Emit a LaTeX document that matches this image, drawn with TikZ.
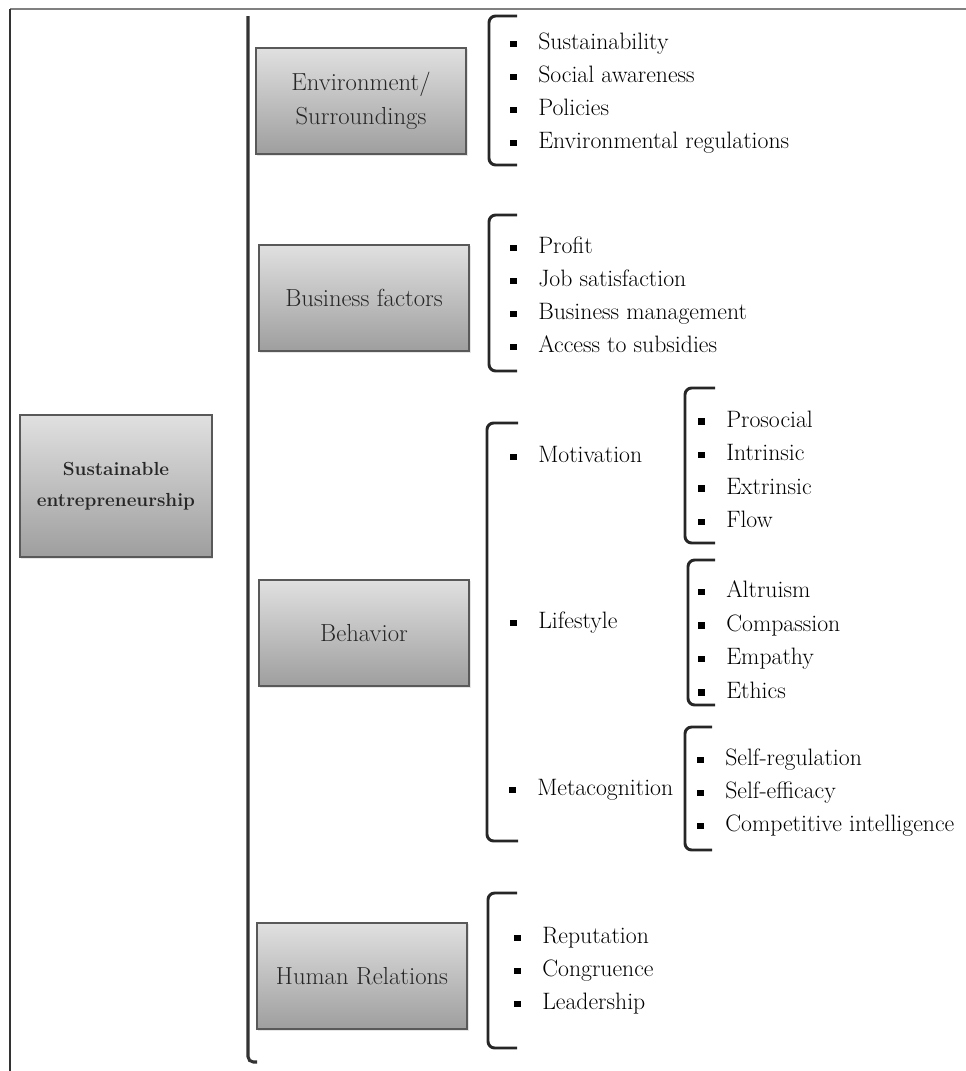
\documentclass[tikz,border=0pt]{standalone}
\usetikzlibrary{positioning}
\usetikzlibrary{shadows}
\tikzset{
	factor/.style={
		rectangle,
		draw=black!65, line width=1.5pt,
		top color=black!12,
		bottom color=black!38,
		text=black!85,
		minimum width=158pt,
		minimum height=80pt,
		align=center,
		font=\fontsize{18.5}{25.5}\selectfont,
		drop shadow={opacity=0.2, shadow xshift=1pt, shadow yshift=-1pt}},
	brak/.style={draw=black!85, line width=2.2pt, rounded corners=5pt},
	bulsq/.style={fill=black, inner sep=0pt, minimum size=5pt},
	itemtxt/.style={
		anchor=west, inner sep=0pt,
		text=black,
		font=\fontsize{17.8}{20}\selectfont,
		text height=12pt, text depth=3.5pt,
		label={[bulsq, label distance=15.5pt]left:{}}},
}
\begin{document}
\begin{tikzpicture}[x=0.75pt, y=-0.75pt]
	\useasboundingbox (0,0) rectangle (966,1071);
	% frame
	\draw[black!50, line width=1.2pt] (966,9) -- (10,9);
	\draw[black!80, line width=0.9pt] (10,9) -- (10,1071);

	% root and the four factors
	\node[factor, font=\bfseries\fontsize{14.2}{23}\selectfont, minimum width=144pt, minimum height=107pt] (root) at (116,486) {Sustainable\\entrepreneurship};
	\draw[black!80, line width=2.3pt, rounded corners=4pt] (248,16) -- (248,1062) -- (257,1062);

	\node[factor] (env) at (361,101) {Environment/\\Surroundings};
	\node[factor] (bus) at (364,298) {Business factors};
	\node[factor] (beh) at (364,633) {Behavior};
	\node[factor] (hum) at (362,976) {Human Relations};

	% brackets
	\draw[brak] (517,16) -- (489,16) -- (489,165) -- (517,165);
	\draw[brak] (517,215) -- (489,215) -- (489,371) -- (517,371);
	\draw[brak] (518,423) -- (487,423) -- (487,841) -- (518,841);
	\draw[brak] (517,893) -- (488,893) -- (488,1048) -- (517,1048);
	\draw[brak] (715,388) -- (685,388) -- (685,543) -- (715,543);
	\draw[brak] (715,560) -- (688,560) -- (688,705) -- (715,705);
	\draw[brak] (712,727) -- (685,727) -- (685,850) -- (712,850);

	% lists
	\foreach \t [count=\i] in {Sustainability, Social awareness, Policies, Environmental regulations}
		\node[itemtxt] (env\i) at (538,11+33*\i) {\t};
	\foreach \t [count=\i] in {Profit, Job satisfaction, Business management, Access to subsidies}
		\node[itemtxt] (bus\i) at (538,215+33*\i) {\t};

	\node[itemtxt] (mot) at (538,457) {Motivation};
	\node[itemtxt] (life) at (538,623) {Lifestyle};
	\node[itemtxt] (meta) at (537,790) {Metacognition};

	\foreach \t [count=\i] in {Prosocial, Intrinsic, Extrinsic, Flow}
		\node[itemtxt] (mot\i) at (726,388+33.5*\i) {\t};
	\foreach \t [count=\i] in {Altruism, Compassion, Empathy, Ethics}
		\node[itemtxt] (life\i) at (726,558.5+33.5*\i) {\t};
	\foreach \t [count=\i] in {Self-regulation, Self-efficacy, Competitive intelligence}
		\node[itemtxt] (meta\i) at (725,727+33*\i) {\t};

	\foreach \t [count=\i] in {Reputation, Congruence, Leadership}
		\node[itemtxt] (hum\i) at (542,905+33*\i) {\t};
\end{tikzpicture}
\end{document}
